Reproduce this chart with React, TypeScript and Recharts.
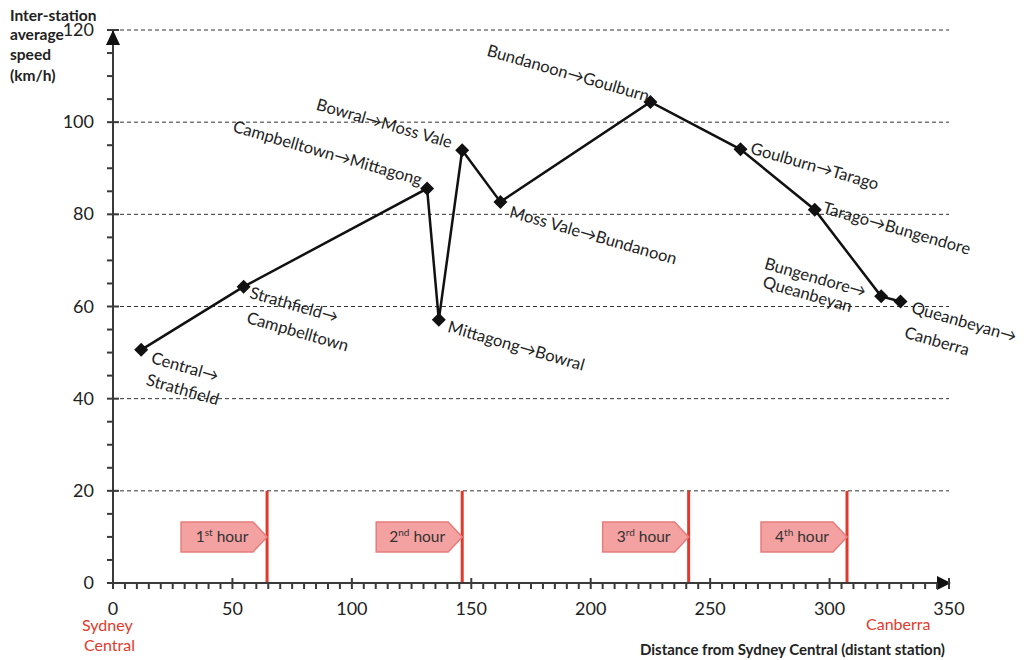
import React from 'react';
import { LineChart, Line, XAxis, YAxis, ReferenceLine, ReferenceDot } from 'recharts';

// distance from Sydney Central (km) and inter-station average speed (km/h)
const distances = [11.8, 54.7, 131.5, 136.4, 146.2, 162.2, 225, 262.7, 293.8, 321.6, 329.7];
const speeds = [50.6, 64.3, 85.6, 57.1, 93.9, 82.7, 104.4, 94.1, 81.0, 62.2, 61.1];
const segmentLabels = [
  ['Central→', 'Strathfield'],
  ['Strathfield→', 'Campbelltown'],
  ['Campbelltown→Mittagong'],
  ['Mittagong→Bowral'],
  ['Bowral→Moss Vale'],
  ['Moss Vale→Bundanoon'],
  ['Bundanoon→Goulburn'],
  ['Goulburn→Tarago'],
  ['Tarago→Bungendore'],
  ['Bungendore→', 'Queanbeyan'],
  ['Queanbeyan→', 'Canberra'],
];

const hourMarks = [64.5, 146.2, 241, 307.3];
const hourNumbers = ['1', '2', '3', '4'];
const hourSuffixes = ['st', 'nd', 'rd', 'th'];

const yMajorTicks = [0, 20, 40, 60, 80, 100, 120];
const xMinorTicks = Array.from({ length: 71 }, (_, i) => i * 5);
const yMinorTicks = Array.from({ length: 25 }, (_, i) => i * 5);

// label placement relative to each marker (pixels), not data
const labelLayout: { anchor: 'start' | 'end'; offsets: [number, number][] }[] = [
  { anchor: 'start', offsets: [[9, 13], [4, 35]] },
  { anchor: 'start', offsets: [[5, 11], [2, 36]] },
  { anchor: 'end', offsets: [[-7, -3]] },
  { anchor: 'start', offsets: [[8, 12]] },
  { anchor: 'end', offsets: [[-12, -2]] },
  { anchor: 'start', offsets: [[8, 15]] },
  { anchor: 'end', offsets: [[-3, 0]] },
  { anchor: 'start', offsets: [[9, 4]] },
  { anchor: 'start', offsets: [[7, 3]] },
  { anchor: 'end', offsets: [[-17, 1], [-31, 16]] },
  { anchor: 'start', offsets: [[10, 11], [3, 36]] },
];

const data = distances.map((d, i) => ({ dist: d, speed: speeds[i] }));

const FONT = 'Lato, "Open Sans", sans-serif';
const RED = '#e2392c';
const AXIS = '#3a3a3a';
const ROT = 16;

function StationDot(props: any) {
  const { cx, cy, index } = props;
  if (cx == null || cy == null) return null;
  const lay = labelLayout[index];
  const lines = segmentLabels[index];
  return (
    <g>
      <path d={`M${cx},${cy - 7} L${cx + 7},${cy} L${cx},${cy + 7} L${cx - 7},${cy} Z`} fill="#111" />
      {lines.map((t, j) => {
        const [dx, dy] = lay.offsets[j];
        const x = cx + dx;
        const y = cy + dy;
        return (
          <text
            key={j}
            x={x}
            y={y}
            textAnchor={lay.anchor}
            transform={`rotate(${ROT} ${x} ${y})`}
            fontSize={16.5}
            fontFamily={FONT}
            fill="#222"
          >
            {t}
          </text>
        );
      })}
    </g>
  );
}

function XTick(props: any) {
  const { x, payload } = props;
  const v = payload.value;
  const major = v % 50 === 0;
  const base = 583;
  return (
    <g>
      <line x1={x} x2={x} y1={major ? base - 5 : base} y2={base + 6} stroke={AXIS} strokeWidth={2} />
      {major && (
        <text x={x} y={base + 32} textAnchor="middle" fontSize={18} fontFamily={FONT} fill="#222" stroke="none">
          {v}
        </text>
      )}
    </g>
  );
}

function YTick(props: any) {
  const { y, payload } = props;
  const v = payload.value;
  const major = v % 20 === 0;
  const base = 113;
  return (
    <g>
      <line x1={base - 6} x2={major ? base + 6 : base} y1={y} y2={y} stroke={AXIS} strokeWidth={2} />
      {major && (
        <text x={94} y={y + 6} textAnchor="end" fontSize={18} fontFamily={FONT} fill="#222" stroke="none">
          {v}
        </text>
      )}
    </g>
  );
}

function HourBox(props: any) {
  const { cx, cy, idx } = props;
  if (cx == null || cy == null) return null;
  const left = cx - 86;
  const neck = cx - 14;
  return (
    <g>
      <path
        d={`M${left},${cy - 15} L${neck},${cy - 15} L${cx},${cy} L${neck},${cy + 15} L${left},${cy + 15} Z`}
        fill="#f4a1a1"
        stroke="#e77c7c"
        strokeWidth={1.5}
      />
      <text x={left + 41} y={cy + 5} textAnchor="middle" fontSize={15.5} fontFamily={FONT} fill="#333">
        {hourNumbers[idx]}
        <tspan fontSize={10} dy={-6}>{hourSuffixes[idx]}</tspan>
        <tspan dy={6}> hour</tspan>
      </text>
    </g>
  );
}

export default function App() {
  return (
    <div style={{ position: 'absolute', left: 0, top: 0, width: 1024, height: 660, background: '#fff' }}>
      <LineChart
        width={1024}
        height={660}
        data={data}
        margin={{ top: 30, right: 75, bottom: 47, left: 53 }}
      >
        <XAxis
          dataKey="dist"
          type="number"
          domain={[0, 350]}
          ticks={xMinorTicks}
          interval={0}
          tick={(p: any) => <XTick {...p} />}
          tickLine={false}
          tickSize={0}
          tickMargin={0}
          axisLine={{ stroke: AXIS, strokeWidth: 2 }}
          height={30}
        />
        <YAxis
          type="number"
          domain={[0, 120]}
          ticks={yMinorTicks}
          interval={0}
          tick={(p: any) => <YTick {...p} />}
          tickLine={false}
          tickSize={0}
          tickMargin={0}
          axisLine={{ stroke: AXIS, strokeWidth: 2 }}
          width={60}
        />
        {yMajorTicks.filter((v) => v > 0).map((v) => (
          <ReferenceLine key={v} y={v} stroke="#333" strokeWidth={1} strokeDasharray="4 3" />
        ))}
        {hourMarks.map((h) => (
          <ReferenceLine
            key={'r' + h}
            segment={[{ x: h, y: 0 }, { x: h, y: 20 }]}
            stroke={RED}
            strokeWidth={3}
          />
        ))}
        {hourMarks.map((h, i) => (
          <ReferenceDot
            key={'b' + h}
            x={h}
            y={10}
            r={0}
            shape={(p: any) => <HourBox {...p} idx={i} />}
          />
        ))}
        <ReferenceDot
          x={0}
          y={120}
          r={0}
          shape={(p: any) => (
            <path d={`M${p.cx},${p.cy} L${p.cx + 7},${p.cy + 15} L${p.cx - 7},${p.cy + 15} Z`} fill="#111" />
          )}
        />
        <ReferenceDot
          x={350}
          y={0}
          r={0}
          shape={(p: any) => (
            <path d={`M${p.cx + 2},${p.cy} L${p.cx - 12},${p.cy - 7} L${p.cx - 12},${p.cy + 7} Z`} fill="#111" />
          )}
        />
        <Line
          dataKey="speed"
          stroke="#111"
          strokeWidth={2.5}
          dot={(p: any) => <StationDot key={p.index} {...p} />}
          activeDot={false}
          isAnimationActive={false}
        />
      </LineChart>
      <svg
        width={1024}
        height={660}
        style={{ position: 'absolute', left: 0, top: 0, pointerEvents: 'none' }}
        fontFamily={FONT}
      >
        <g fontSize={15.5} fontWeight="bold" fill="#222">
          <text x={10} y={21}>Inter-station</text>
          <text x={10} y={40}>average</text>
          <text x={10} y={60}>speed</text>
          <text x={10} y={81}>(km/h)</text>
        </g>
        <text x={82} y={631} fontSize={16} fill={RED}>Sydney</text>
        <text x={84} y={651} fontSize={16} fill={RED}>Central</text>
        <text x={866} y={630} fontSize={16} fill={RED}>Canberra</text>
        <text x={945} y={655} textAnchor="end" fontSize={15} fontWeight="bold" fill="#222">
          Distance from Sydney Central (distant station)
        </text>
      </svg>
    </div>
  );
}
